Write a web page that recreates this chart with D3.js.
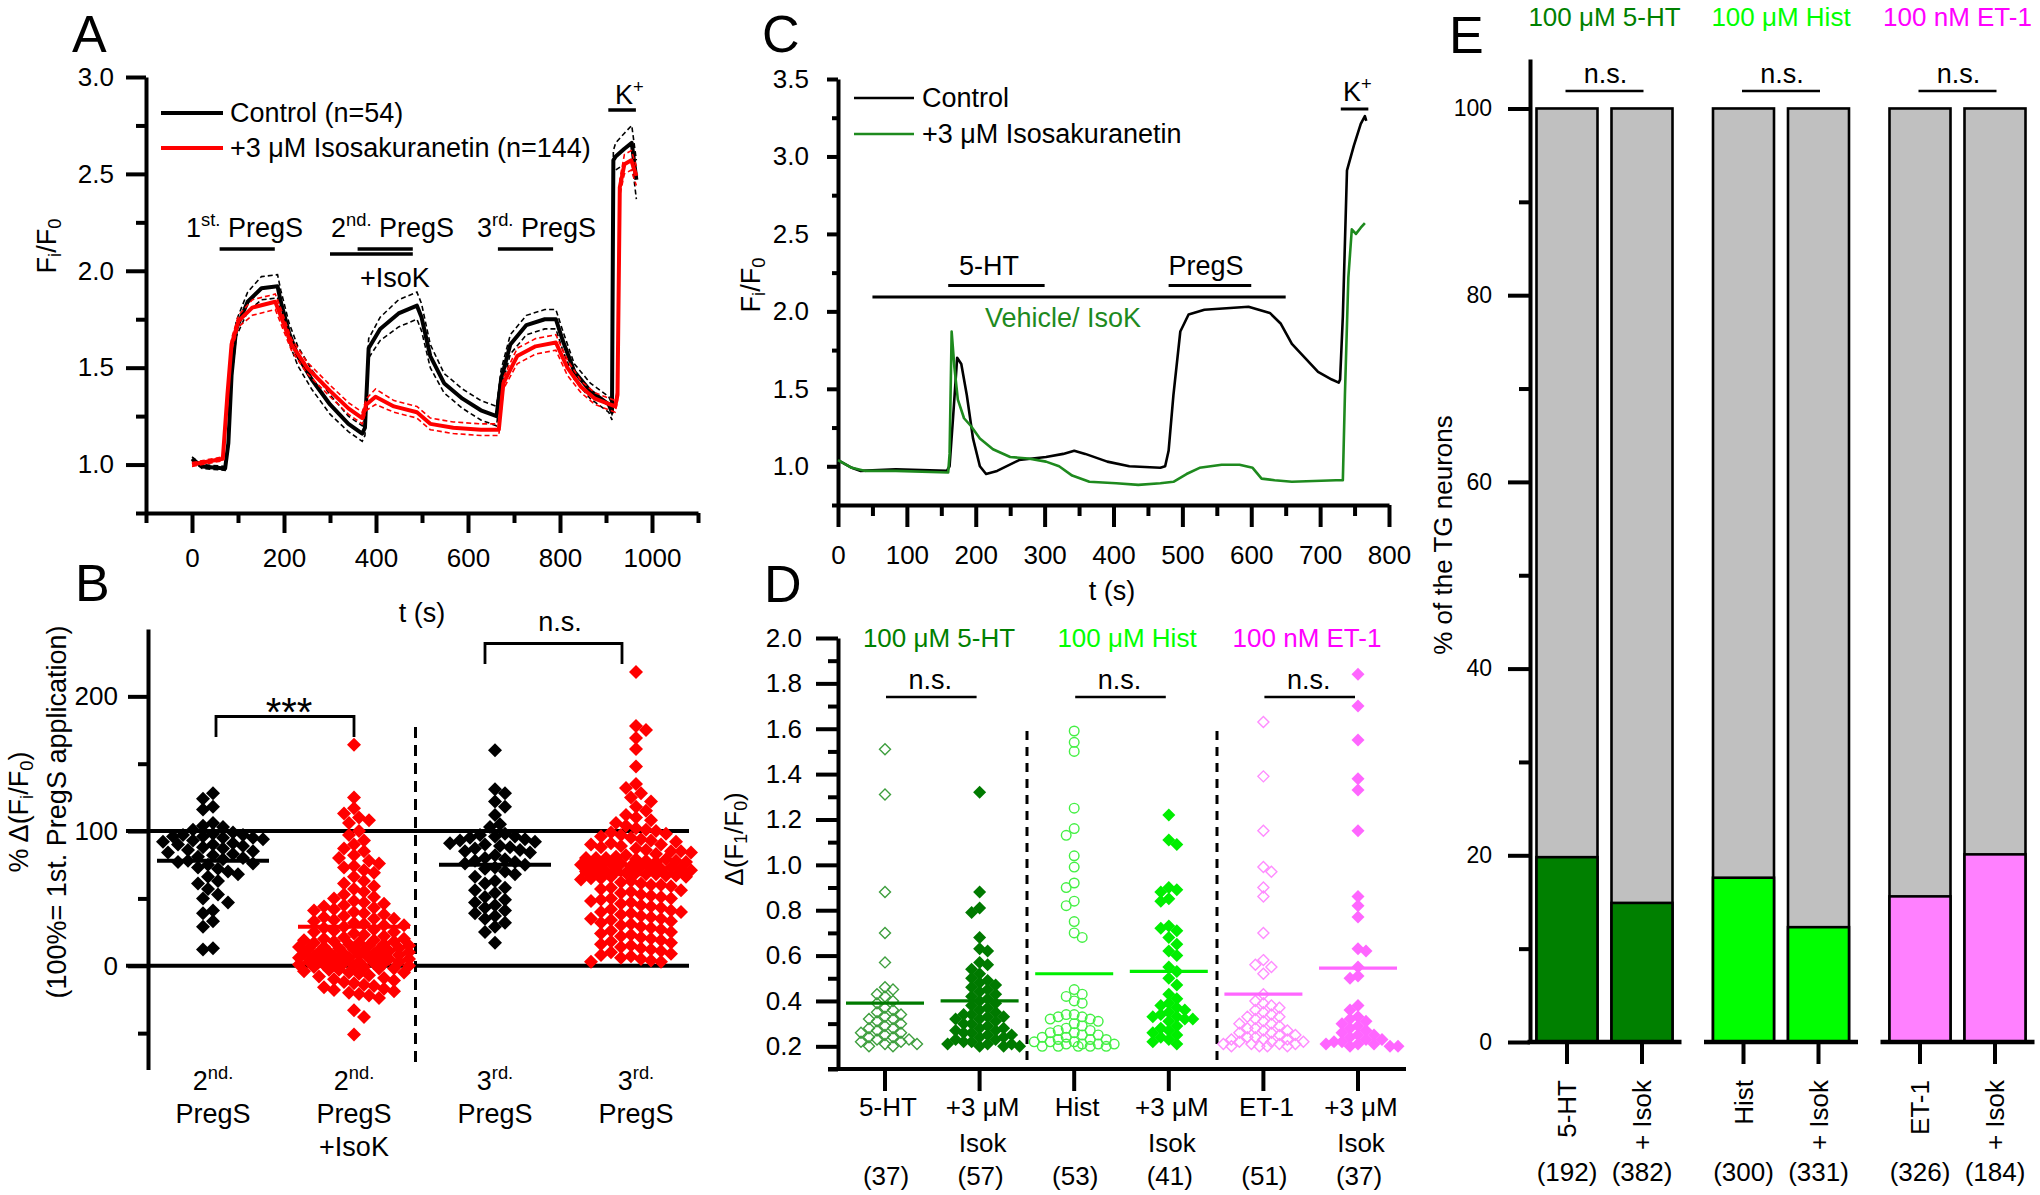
<!DOCTYPE html>
<html><head><meta charset="utf-8">
<script src="https://cdn.jsdelivr.net/npm/d3@7"></script>
<style>body{margin:0;background:#fff}</style>
</head><body>
<script>
// ---------------- DATA ----------------
// Panel A traces (t in s, Fi/F0)
const aCtrlT = [0,22,72,79,86,96,121,151,186,193,211,230,260,300,340,370,376,384,409,449,489,499,518,548,588,628,662,672,692,727,767,791,806,831,866,906,913,916,921,940,956,966];
const aCtrlV = [1.03,0.99,0.98,1.11,1.46,1.70,1.84,1.91,1.92,1.84,1.68,1.56,1.44,1.31,1.21,1.16,1.19,1.60,1.70,1.78,1.82,1.76,1.56,1.42,1.34,1.28,1.25,1.44,1.62,1.72,1.75,1.75,1.64,1.48,1.38,1.31,1.27,2.57,2.59,2.63,2.66,2.47];
const aCtrlSem = [0.01,0.01,0.01,0.02,0.03,0.04,0.05,0.06,0.06,0.06,0.05,0.05,0.05,0.05,0.04,0.04,0.04,0.05,0.06,0.07,0.07,0.07,0.06,0.05,0.05,0.05,0.05,0.05,0.05,0.05,0.05,0.05,0.05,0.04,0.04,0.04,0.04,0.05,0.07,0.08,0.09,0.10];
const aIsoT = [0,67,77,86,101,131,181,191,216,250,300,340,370,379,399,439,489,518,568,628,667,677,707,747,791,816,846,876,920,925,930,940,955,966];
const aIsoV = [1.00,1.03,1.36,1.62,1.74,1.81,1.84,1.78,1.62,1.50,1.38,1.29,1.24,1.31,1.35,1.30,1.27,1.21,1.19,1.18,1.18,1.42,1.56,1.61,1.63,1.50,1.40,1.34,1.30,1.36,2.43,2.55,2.57,2.49];
const aIsoSem = [0.01,0.01,0.02,0.03,0.03,0.04,0.04,0.04,0.03,0.03,0.03,0.03,0.03,0.03,0.04,0.03,0.03,0.03,0.03,0.03,0.03,0.03,0.04,0.04,0.04,0.04,0.03,0.03,0.03,0.03,0.04,0.05,0.05,0.05];
const aXTicks = [0,200,400,600,800,1000];
const aYTicks = [1.0,1.5,2.0,2.5,3.0];
const aStimStart = [60, 300, 360, 665, 905];
const aStimEnd   = [180, 480, 480, 785, 965];

// Panel B (% of 1st PregS)
const bGroup1 = [128,124,118,116,106,104,103,101,99,98,97,97,96,96,95,95,94,93,92,91,90,90,89,88,87,86,85,84,83,82,81,80,79,78,77,76,75,73,72,70,68,66,63,61,57,53,50,47,41,39,33,29,13,12];
const bGroup2 = [164,125,117,113,110,108,106,100,97,93,90,87,85,82,80,78,76,74,73,71,69,66,63,61,
  59,57,55,53,51,50,48,47,46,45,44,43,42,41,40,39,38,37,36,35,35,34,33,32,31,30,30,29,28,27,26,25,25,24,23,22,21,20,20,
  19,18,18,17,16,15,15,14,13,13,12,12,11,10,10,9,9,8,8,7,7,6,6,5,5,4,4,3,3,2,2,1,1,0,0,19,17,14,11,8,5,2,16,13,10,7,4,1,3,6,9,
  -1,-1,-2,-2,-3,-3,-4,-5,-5,-6,-7,-8,-9,-10,-11,-12,-13,-14,-15,-16,-17,-18,-19,-20,-21,-22,-24,-33,-38,-51];
const bGroup3 = [160,131,128,122,118,112,105,103,98,97,96,96,95,94,93,92,91,90,89,88,87,86,85,84,82,80,79,78,77,76,75,73,72,70,68,66,63,61,58,56,54,51,49,47,45,43,41,39,37,35,32,29,25,17];
const bGroup4 = [218,178,175,169,161,148,135,132,128,125,122,118,115,112,110,108,106,104,102,101,
  100,99,98,97,96,95,94,93,92,91,90,89,88,87,86,85,84,83,82,81,80,80,79,79,78,78,77,77,76,76,
  75,75,74,74,73,73,72,72,71,71,70,70,69,69,68,68,67,67,66,66,65,64,63,62,61,60,59,58,57,56,55,
  54,53,52,51,50,49,48,47,46,45,44,43,42,41,40,39,38,37,36,35,34,33,32,31,30,
  29,28,27,26,25,24,23,22,21,20,19,18,17,16,15,14,13,12,11,10,9,8,7,6,5,4,3,3,
  90,85,80,75,70,65,60,50,40,35];
const bMeans = [78, 29, 75, 68];
const bCats = ['2nd PregS','2nd PregS +IsoK','3rd PregS','3rd PregS +IsoK'];
const bYTicks = [0,100,200];

// Panel C example traces
const cCtrlT = [0,20,33,84,158,162,167,173,179,187,196,206,215,231,263,302,327,343,359,391,423,468,475,480,487,497,509,532,564,596,627,643,659,678,697,717,727,729,733,739,749,759,765,767];
const cCtrlV = [1.04,0.99,0.97,0.98,0.97,1.00,1.31,1.70,1.66,1.46,1.18,1.00,0.95,0.97,1.04,1.06,1.08,1.10,1.08,1.03,1.00,0.99,1.00,1.10,1.46,1.87,1.98,2.01,2.02,2.03,1.99,1.92,1.79,1.70,1.61,1.56,1.54,1.56,1.97,2.91,3.07,3.21,3.26,3.23];
const cIsoT = [0,20,40,84,160,162,165,169,174,183,193,206,225,250,276,302,321,340,365,404,436,468,487,506,525,557,583,602,615,634,659,723,733,736,741,746,752,759,765];
const cIsoV = [1.04,0.99,0.97,0.97,0.96,1.08,1.87,1.64,1.43,1.31,1.26,1.18,1.11,1.06,1.05,1.03,1.00,0.94,0.90,0.89,0.88,0.89,0.90,0.95,0.99,1.01,1.01,0.99,0.92,0.91,0.90,0.91,0.91,1.46,2.22,2.53,2.50,2.54,2.57];
const cXTicks = [0,100,200,300,400,500,600,700,800];
const cYTicks = [1.0,1.5,2.0,2.5,3.0,3.5];

// Panel D amplitudes
const d5HT = [1.51,1.31,0.88,0.70,0.57,0.46,0.45,0.43,0.42,0.40,0.39,0.37,0.36,0.35,0.34,0.33,0.32,0.32,0.31,0.30,0.29,0.28,0.28,0.27,0.26,0.26,0.25,0.24,0.24,0.23,0.23,0.22,0.22,0.21,0.21,0.20,0.20];
const d5HTIsok = [1.32,0.88,0.81,0.79,0.68,0.63,0.62,0.57,0.56,0.54,0.52,0.50,0.49,0.48,0.47,0.46,0.45,0.44,0.43,0.42,0.41,0.40,0.39,0.38,0.37,0.36,0.35,0.34,0.34,0.33,0.33,0.32,0.32,0.31,0.30,0.30,0.29,0.28,0.28,0.27,0.27,0.26,0.26,0.25,0.25,0.24,0.24,0.23,0.23,0.22,0.22,0.21,0.21,0.21,0.20,0.20,0.20];
const dHist = [1.59,1.54,1.50,1.25,1.16,1.13,1.04,0.99,0.92,0.90,0.84,0.82,0.75,0.70,0.68,0.45,0.43,0.42,0.40,0.39,0.34,0.34,0.33,0.33,0.32,0.32,0.31,0.30,0.29,0.28,0.27,0.27,0.26,0.26,0.25,0.25,0.24,0.24,0.23,0.23,0.23,0.22,0.22,0.22,0.21,0.21,0.21,0.21,0.20,0.20,0.20,0.20,0.20];
const dHistIsok = [1.22,1.11,1.09,0.90,0.89,0.88,0.85,0.84,0.73,0.72,0.71,0.68,0.65,0.62,0.60,0.55,0.53,0.50,0.47,0.43,0.41,0.39,0.38,0.37,0.36,0.35,0.34,0.33,0.33,0.32,0.32,0.31,0.29,0.28,0.27,0.26,0.25,0.24,0.23,0.22,0.21];
const dET1 = [1.63,1.39,1.15,0.99,0.97,0.90,0.86,0.70,0.58,0.56,0.55,0.52,0.43,0.40,0.39,0.38,0.37,0.36,0.35,0.34,0.33,0.33,0.32,0.31,0.30,0.30,0.29,0.28,0.28,0.27,0.27,0.26,0.26,0.25,0.25,0.24,0.24,0.23,0.23,0.23,0.22,0.22,0.22,0.21,0.21,0.21,0.21,0.20,0.20,0.20,0.20];
const dET1Isok = [1.84,1.70,1.55,1.38,1.33,1.15,0.86,0.82,0.77,0.63,0.62,0.55,0.51,0.50,0.38,0.36,0.33,0.32,0.31,0.30,0.29,0.28,0.27,0.26,0.25,0.25,0.24,0.23,0.23,0.22,0.22,0.21,0.21,0.21,0.20,0.20,0.20];
const dMeans = [0.39,0.40,0.52,0.53,0.43,0.545];
const dLabel1 = ['5-HT','+3 μM','Hist','+3 μM','ET-1','+3 μM'];
const dLabel2 = ['','Isok','','Isok','','Isok'];
const dCounts = ['(37)','(57)','(53)','(41)','(51)','(37)'];
const dYTicks = [0.2,0.4,0.6,0.8,1.0,1.2,1.4,1.6,1.8,2.0];

// Panel E (% responders)
const eGroups = ['100 μM 5-HT','100 μM Hist','100 nM ET-1'];
const eBarLabels = ['5-HT','+ Isok','Hist','+ Isok','ET-1','+ Isok'];
const eCounts = ['(192)','(382)','(300)','(331)','(326)','(184)'];
const eValues = [19.8,14.9,17.6,12.3,15.6,20.1];
const eYTicks = [0,20,40,60,80,100];

// ---------------- STYLE ----------------
const FONT = "'Liberation Sans', Arial, Helvetica, sans-serif";
const RED = '#ff0000';
const CGREEN = '#1e8a1e';
const groupColors = ['#007a00','#00ee00','#ff66ff'];
const headColors = ['#008000','#00ff00','#ff00ff'];
const barColors = ['#008000','#00ff00','#ff80ff'];

const svg = d3.select('body').append('svg')
  .attr('width',2040).attr('height',1195)
  .style('font-family',FONT);

function rich(sel, parts, size){
  let shift = 0;
  parts.forEach(p=>{
    if (typeof p === 'string') p = {t:p};
    const target = p.sup ? -0.42*size : (p.sub ? 0.25*size : 0);
    const ts = sel.append('tspan').text(p.t).attr('dy', target - shift);
    if (p.sup || p.sub) ts.attr('font-size', size*0.68);
    shift = target;
  });
  return sel;
}
function txt(x,y,parts,size,anchor,color,rot){
  const t = svg.append('text').attr('font-size',size).attr('fill',color||'#000')
    .attr('text-anchor',anchor||'start');
  if (rot) t.attr('transform',`translate(${x},${y}) rotate(${rot})`);
  else t.attr('x',x).attr('y',y);
  rich(t, Array.isArray(parts)?parts:[parts], size);
  return t;
}
function styleAx(g, fs){
  g.select('.domain').attr('stroke','#000').attr('stroke-width',4);
  g.selectAll('.tick line').attr('stroke','#000').attr('stroke-width',4);
  g.selectAll('.tick text').attr('font-size',fs).attr('fill','#000').attr('font-family',FONT);
}
function axisY(scale,x,majors,minors,majLen,minLen,pad,fmt,fs){
  const g1 = svg.append('g').attr('transform',`translate(${x},0)`)
    .call(d3.axisLeft(scale).tickValues(minors).tickSize(minLen).tickSizeOuter(0).tickFormat(''));
  g1.select('.domain').remove(); styleAx(g1,fs);
  const g = svg.append('g').attr('transform',`translate(${x},0)`)
    .call(d3.axisLeft(scale).tickValues(majors).tickSize(majLen).tickSizeOuter(0).tickPadding(pad).tickFormat(fmt));
  styleAx(g,fs);
}
function axisX(scale,y,majors,minors,majLen,minLen,pad,fmt,fs){
  const g1 = svg.append('g').attr('transform',`translate(0,${y})`)
    .call(d3.axisBottom(scale).tickValues(minors).tickSize(minLen).tickSizeOuter(0).tickFormat(''));
  g1.select('.domain').remove(); styleAx(g1,fs);
  const g = svg.append('g').attr('transform',`translate(0,${y})`)
    .call(d3.axisBottom(scale).tickValues(majors).tickSize(majLen).tickSizeOuter(0).tickPadding(pad).tickFormat(fmt));
  styleAx(g,fs);
}
function hline(x1,x2,y,w,color,dash){
  const l = svg.append('line').attr('x1',x1).attr('x2',x2).attr('y1',y).attr('y2',y)
    .attr('stroke',color||'#000').attr('stroke-width',w);
  if (dash) l.attr('stroke-dasharray',dash);
  return l;
}
function vline(x,y1,y2,w,color,dash){
  const l = svg.append('line').attr('x1',x).attr('x2',x).attr('y1',y1).attr('y2',y2)
    .attr('stroke',color||'#000').attr('stroke-width',w);
  if (dash) l.attr('stroke-dasharray',dash);
  return l;
}
// deterministic beeswarm offsets
function swarm(vals, yScale, diam, maxHalf){
  const pts = vals.map(v=>({v, y:yScale(v)})).sort((a,b)=>a.y-b.y);
  const placed = [];
  const step = diam*0.5;
  pts.forEach((p,i)=>{
    const cands=[0];
    for (let k=1;k*step<=maxHalf;k++){
      if (i%2) cands.push(-k*step,k*step); else cands.push(k*step,-k*step);
    }
    let chosen=null, best=-1, bestO=0;
    for (const o of cands){
      let minD=Infinity;
      for (const q of placed){
        const dy=q.y-p.y; if (Math.abs(dy)>=diam) continue;
        const d=Math.hypot(q.x-o,dy); if (d<minD) minD=d;
      }
      if (minD>=diam){chosen=o;break;}
      if (minD>best){best=minD;bestO=o;}
    }
    p.x = chosen===null?bestO:chosen;
    placed.push(p);
  });
  return pts;
}
const diamondPath = r => `M0,${-r}L${r},0L0,${r}L${-r},0Z`;
const fmt1 = d3.format('.1f');

// ================= PANEL A =================
const xA = d3.scaleLinear().domain([-100,1100]).range([146,698]);
const yA = d3.scaleLinear().domain([0.75,3.0]).range([513,77]);
axisY(yA,146,aYTicks,[0.75,1.25,1.75,2.25,2.75],20,10,12,fmt1,26);
axisX(xA,513,aXTicks,[-100,100,300,500,700,900,1100],20,10,16,d3.format('d'),26);
const lineA = d3.line().x(d=>xA(d.t)).y(d=>yA(d.v));
function trace(T,V,S,color,w){
  const base = T.map((t,i)=>({t,v:V[i]}));
  if (S){
    [1,-1].forEach(sg=>{
      svg.append('path').datum(T.map((t,i)=>({t,v:V[i]+sg*S[i]})))
        .attr('d',lineA).attr('fill','none').attr('stroke',color).attr('stroke-width',1.6).attr('stroke-dasharray','5,3');
    });
  }
  svg.append('path').datum(base).attr('d',lineA).attr('fill','none')
    .attr('stroke',color).attr('stroke-width',w).attr('stroke-linejoin','round');
}
trace(aCtrlT,aCtrlV,aCtrlSem,'#000',4);
trace(aIsoT,aIsoV,aIsoSem,RED,4);
// legend
hline(161,223,113,4,'#000'); hline(161,223,148,4,RED);
txt(230,122,'Control (n=54)',27);
txt(230,157,'+3 μM Isosakuranetin (n=144)',27);
// stimulus bars
const aBarY = [249,254,249,249,110];
aStimStart.forEach((s,i)=>hline(xA(s),xA(aStimEnd[i]),aBarY[i],3.5,'#000'));
txt(186,237,['1',{t:'st.',sup:true},' PregS'],27);
txt(331,237,['2',{t:'nd.',sup:true},' PregS'],27);
txt(360,287,'+IsoK',27);
txt(477,237,['3',{t:'rd.',sup:true},' PregS'],27);
txt(615,104,['K',{t:'+',sup:true}],27);
txt(47,246,['F',{t:'i',sub:true},'/F',{t:'0',sub:true}],27,'middle','#000',-90).attr('dominant-baseline','central');
txt(422,622,'t (s)',27,'middle');

// ================= PANEL B =================
const xB = d3.scalePoint().domain(bCats).range([213,636]);
const yB = d3.scaleLinear().domain([-77,250]).range([1069.5,629]);
axisY(yB,148,bYTicks,[-50,50,150],20,10,10,d3.format('d'),26);
hline(126,689,yB(100),4,'#000');
hline(126,689,yB(0),4,'#000');
vline(415.5,727,1066,3,'#000','11,7');
const bData=[bGroup1,bGroup2,bGroup3,bGroup4];
const bCol=['#000',RED,'#000',RED];
bData.forEach((vals,gi)=>{
  const cx = xB(bCats[gi]);
  const pts = swarm(vals,yB,10,56);
  svg.append('g').selectAll('path').data(pts).join('path')
    .attr('d',diamondPath(7)).attr('transform',d=>`translate(${cx+d.x},${d.y})`)
    .attr('fill',bCol[gi]);
});
bMeans.forEach((m,gi)=>{
  const cx = xB(bCats[gi]);
  hline(cx-56,cx+56,yB(m),4,bCol[gi]);
});
// brackets
function bracket(x1,x2,yTop,yBot,w){
  svg.append('path').attr('d',`M${x1},${yBot}V${yTop}H${x2}V${yBot}`)
    .attr('fill','none').attr('stroke','#000').attr('stroke-width',w);
}
bracket(xB(bCats[0])+3,xB(bCats[1]),716.5,737,2.8);
txt(289,726,'***',40,'middle');
bracket(xB(bCats[2])-10,xB(bCats[3])-14,643.5,664,2.8);
txt(560,631,'n.s.',27,'middle');
const bSup=['nd.','nd.','rd.','rd.'], bNum=['2','2','3','3'];
bCats.forEach((c,i)=>{
  const cx=xB(c);
  txt(cx,1090,[bNum[i],{t:bSup[i],sup:true}],27,'middle');
  txt(cx,1123,'PregS',27,'middle');
  if (i===1) txt(cx,1156,'+IsoK',27,'middle');
});
txt(19,812,['% Δ(F',{t:'i',sub:true},'/F',{t:'0',sub:true},')'],27,'middle','#000',-90).attr('dominant-baseline','central');
txt(57,812,'(100%= 1st. PregS application)',27,'middle','#000',-90).attr('dominant-baseline','central');

// ================= PANEL C =================
const xC = d3.scaleLinear().domain([0,800]).range([838,1389]);
const yC = d3.scaleLinear().domain([0.75,3.5]).range([505,79]);
axisY(yC,838,cYTicks,[0.75,1.25,1.75,2.25,2.75,3.25],11,6,18,fmt1,26);
axisX(xC,505,cXTicks,[50,150,250,350,450,550,650,750],22,11,19,d3.format('d'),26);
const lineC = d3.line().x(d=>xC(d.t)).y(d=>yC(d.v));
svg.append('path').datum(cCtrlT.map((t,i)=>({t,v:cCtrlV[i]}))).attr('d',lineC)
  .attr('fill','none').attr('stroke','#000').attr('stroke-width',2.6).attr('stroke-linejoin','round');
svg.append('path').datum(cIsoT.map((t,i)=>({t,v:cIsoV[i]}))).attr('d',lineC)
  .attr('fill','none').attr('stroke',CGREEN).attr('stroke-width',2.6).attr('stroke-linejoin','round');
hline(854,914,98,2.6,'#000'); hline(854,914,134,2.6,CGREEN);
txt(922,107,'Control',27);
txt(922,143,'+3 μM Isosakuranetin',27);
hline(xC(160),xC(300),285.5,3,'#000');
hline(xC(480),xC(600),285.5,3,'#000');
hline(xC(50),xC(650),297,3,'#000');
hline(xC(730),xC(770),109,3,'#000');
txt(989,275,'5-HT',27,'middle');
txt(1206,275,'PregS',27,'middle');
txt(1063,327,'Vehicle/ IsoK',27,'middle',CGREEN);
txt(1343,101,['K',{t:'+',sup:true}],27);
txt(751,285,['F',{t:'i',sub:true},'/F',{t:'0',sub:true}],27,'middle','#000',-90).attr('dominant-baseline','central');
txt(1112,600,'t (s)',27,'middle');

// ================= PANEL D =================
const dKeys = ['5-HT','5-HT+Isok','Hist','Hist+Isok','ET-1','ET-1+Isok'];
const xD = d3.scalePoint().domain(dKeys).range([885,1358]);
const yD = d3.scaleLinear().domain([0.1,2.0]).range([1069,638]);
axisY(yD,838,dYTicks,[0.1,0.3,0.5,0.7,0.9,1.1,1.3,1.5,1.7,1.9],22,10,14,fmt1,26);
// x axis line + category ticks
hline(xD(dKeys[0])-57,xD(dKeys[5])+48,1069,4,'#000');
dKeys.forEach(k=>vline(xD(k),1069,1091,4,'#000'));
vline(1027,731,1069,3,'#000','9,7');
vline(1217,731,1069,3,'#000','9,7');
const dData=[d5HT,d5HTIsok,dHist,dHistIsok,dET1,dET1Isok];
const dOpenCol=['#3d9e3d',null,'#44f044',null,'#ff8cff',null];
dData.forEach((vals,gi)=>{
  const cx = xD(dKeys[gi]);
  const pts = swarm(vals,yD,8,42);
  const col = groupColors[Math.floor(gi/2)];
  const g = svg.append('g');
  if (gi===2){
    g.selectAll('circle').data(pts).join('circle')
      .attr('cx',d=>cx+d.x).attr('cy',d=>d.y).attr('r',4.8)
      .attr('fill','none').attr('stroke',dOpenCol[gi]).attr('stroke-width',1.4);
  } else if (gi%2===0){
    g.selectAll('path').data(pts).join('path')
      .attr('d',diamondPath(5.5)).attr('transform',d=>`translate(${cx+d.x},${d.y})`)
      .attr('fill','none').attr('stroke',dOpenCol[gi]).attr('stroke-width',1.4);
  } else {
    g.selectAll('path').data(pts).join('path')
      .attr('d',diamondPath(6.5)).attr('transform',d=>`translate(${cx+d.x},${d.y})`)
      .attr('fill',col);
  }
});
dMeans.forEach((m,gi)=>{
  const cx = xD(dKeys[gi]);
  hline(cx-39,cx+39,yD(m),3.2,groupColors[Math.floor(gi/2)]);
});
const dHeadX=[939,1127,1307];
eGroups.forEach((g,i)=>txt(dHeadX[i],647,g,26,'middle',headColors[i]));
[0,2,4].forEach((gi,i)=>{
  const a=xD(dKeys[gi]), b=xD(dKeys[gi+1]);
  hline(a+1,b-3,697,2.6,'#000');
  txt((a+b)/2-2,689,'n.s.',27,'middle');
});
dKeys.forEach((k,i)=>{
  const cx=xD(k);
  txt(cx+3,1116,dLabel1[i],26,'middle');
  if (dLabel2[i]) txt(cx+3,1152,dLabel2[i],26,'middle');
  txt(cx+1,1185,dCounts[i],26,'middle');
});
txt(734,839,['Δ(F',{t:'1',sub:true},'/F',{t:'0',sub:true},')'],26,'middle','#000',-90).attr('dominant-baseline','central');

// ================= PANEL E =================
const yE = d3.scaleLinear().domain([0,105.3]).range([1042,59]);
axisY(yE,1530,eYTicks,[10,30,50,70,90],22,11,16,d3.format('d'),23);
const xE = d3.scalePoint().domain(eGroups).range([1604.5,1957.5]);
const barW = 61, inner = 37.5;
eBarLabels.forEach((lab,i)=>{
  const gi = Math.floor(i/2);
  const cx = xE(eGroups[gi]) + (i%2 ? inner : -inner);
  svg.append('rect').attr('x',cx-barW/2).attr('y',yE(100)).attr('width',barW)
    .attr('height',yE(0)-yE(100)).attr('fill','#c0c0c0').attr('stroke','#000').attr('stroke-width',2.6);
  svg.append('rect').attr('x',cx-barW/2).attr('y',yE(eValues[i])).attr('width',barW)
    .attr('height',yE(0)-yE(eValues[i])).attr('fill',barColors[gi]).attr('stroke','#000').attr('stroke-width',2.6);
  vline(cx,1042,1064,4,'#000');
  txt(cx,1080,lab,26,'end','#000',-90).attr('dominant-baseline','central');
  txt(cx,1181,eCounts[i],26,'middle');
});
eGroups.forEach((g,gi)=>{
  const c = xE(g);
  hline(c-77,c+77,1042,4.5,'#000');
  txt(c,26,g,26,'middle',headColors[gi]);
  hline(c-39,c+39,91,2.6,'#000');
  txt(c+1,83,'n.s.',27,'middle');
});
txt(1443,535,'% of the TG neurons',26,'middle','#000',-90).attr('dominant-baseline','central');

// panel letters
txt(72,52,'A',52); txt(75,601,'B',52); txt(762,52,'C',52); txt(764,602,'D',52); txt(1449,53,'E',52);
</script>
</body></html>
